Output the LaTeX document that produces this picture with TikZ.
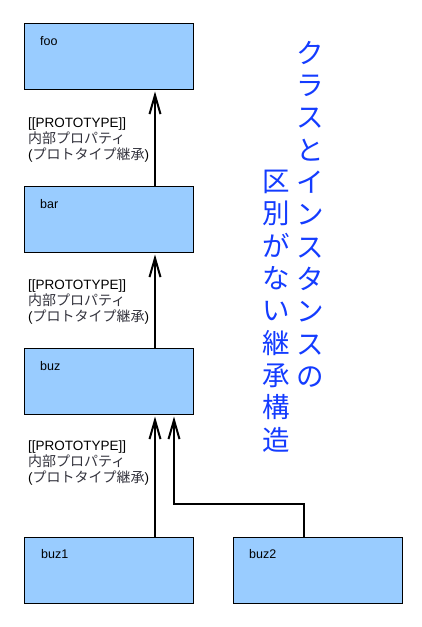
\documentclass[tikz,border=0pt]{standalone}
\usepackage{fontspec}
\setmainfont{Liberation Sans}
\newfontfamily\jp{Noto Sans CJK JP}
\usetikzlibrary{arrows.meta,calc}
\definecolor{boxfill}{HTML}{99CCFF}
\definecolor{titleblue}{RGB}{20,60,255}
\definecolor{jpgray}{RGB}{50,50,60}
\newcommand{\jpt}[1]{{\jp\color{jpgray}\fontsize{14}{16}\selectfont #1}}
\tikzset{
  cls/.style={draw=black,line width=1pt,fill=boxfill,anchor=north west,minimum width=169pt,minimum height=66pt,inner sep=0pt},
  clstxt/.style={anchor=west,inner sep=0pt,font=\fontsize{12.5}{14}\selectfont},
  inh/.style={line width=1.3pt,-{Straight Barb[length=19pt,width=11pt,line width=2pt]}},
  lbl/.style={anchor=north west,inner sep=0pt,align=left,font=\fontsize{13.5}{16}\selectfont},
  ttl/.style={anchor=north,inner sep=0pt,align=center,text=titleblue,font=\jp\fontsize{27.5}{32.3}\selectfont}
}
\begin{document}
\begin{tikzpicture}[x=1pt,y=-1pt]
\useasboundingbox (0,0) rectangle (421,627);
\node[cls] (foo) at (24,23) {};
\node[cls] (bar) at (24,186) {};
\node[cls] (buz) at (24,348) {};
\node[cls] (buz1) at (24,537) {};
\node[cls] (buz2) at (233,537) {};
\node[clstxt] (tfoo) at ($(foo.north west)+(16,18)$) {foo};
\node[clstxt] (tbar) at ($(bar.north west)+(16,18)$) {bar};
\node[clstxt] (tbuz) at ($(buz.north west)+(16,18)$) {buz};
\node[clstxt] (tbuz1) at ($(buz1.north west)+(17,17)$) {buz1};
\node[clstxt] (tbuz2) at ($(buz2.north west)+(16,17)$) {buz2};
\coordinate (c1) at (155,0);
\coordinate (c2) at (174,504);
\coordinate (c3) at (304,504);
\draw[inh] (c1 |- bar.north) -- ($(c1 |- foo.south)+(0,1.5)$);
\draw[inh] (c1 |- buz.north) -- ($(c1 |- bar.south)+(0,1.5)$);
\draw[inh] (c1 |- buz1.north) -- ($(c1 |- buz.south)+(0,1.5)$);
\draw[inh] (c3 |- buz2.north) -- (c3) -- (c2) -- ($(c2 |- buz.south)+(0,1.5)$);
\node[lbl] (l1) at (28,118) {[[PROTOTYPE]]\\\jpt{内部プロパティ}\\(\jpt{プロトタイプ継承})};
\node[lbl] (l2) at (28,280) {[[PROTOTYPE]]\\\jpt{内部プロパティ}\\(\jpt{プロトタイプ継承})};
\node[lbl] (l3) at (28,441) {[[PROTOTYPE]]\\\jpt{内部プロパティ}\\(\jpt{プロトタイプ継承})};
\node[ttl] (t1) at (310,41) {ク\\ラ\\ス\\と\\イ\\ン\\ス\\タ\\ン\\ス\\の};
\node[ttl] (t2) at (276,170) {区\\別\\が\\な\\い\\継\\承\\構\\造};
\end{tikzpicture}
\end{document}
